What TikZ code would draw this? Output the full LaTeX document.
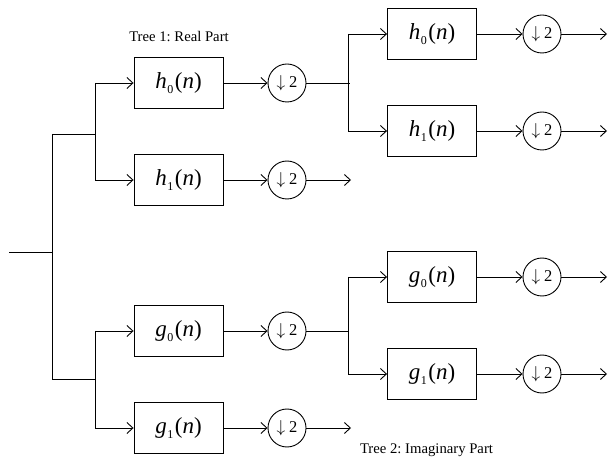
\documentclass[tikz,border=0pt]{standalone}
\usepackage{fontspec}
\setmainfont{Liberation Serif}
\usetikzlibrary{arrows.meta}
\frenchspacing
\newcommand\filtlabel[2]{\textit{#1}\kern0.5pt\raisebox{-5pt}{\fontsize{12}{12}\selectfont #2}\kern1.5pt(\textit{n})}
\newcommand\downtwo{$\downarrow$\kern4pt 2}
\begin{document}
\begin{tikzpicture}[x=1pt,y=-1pt,line width=0.9pt,
  filt/.style={draw,minimum width=89pt,minimum height=51pt,inner sep=0pt,font=\fontsize{23}{23}\selectfont},
  down/.style={draw,circle,minimum size=38pt,inner sep=0pt,font=\fontsize{16.5}{16.5}\selectfont},
  arr/.style={-{Straight Barb[length=6pt,width=11pt]}},
  caption/.style={font=\fontsize{14.7}{15}\selectfont,inner sep=0pt}]
\useasboundingbox (0,0) rectangle (608,462);
% level 1
\node[filt] (h0) at (178.5,83) {\filtlabel{h}{0}};
\node[filt] (h1) at (178.5,180) {\filtlabel{h}{1}};
\node[filt] (g0) at (178.5,331) {\filtlabel{g}{0}};
\node[filt] (g1) at (178.5,428) {\filtlabel{g}{1}};
\node[down] (dh0) at (287,83) {\downtwo};
\node[down] (dh1) at (287,180) {\downtwo};
\node[down] (dg0) at (287,331) {\downtwo};
\node[down] (dg1) at (287,428) {\downtwo};
% level 2
\node[filt] (hh0) at (432,34) {\filtlabel{h}{0}};
\node[filt] (hh1) at (432,131) {\filtlabel{h}{1}};
\node[filt] (gg0) at (432,277) {\filtlabel{g}{0}};
\node[filt] (gg1) at (432,374) {\filtlabel{g}{1}};
\node[down] (dhh0) at (542,34) {\downtwo};
\node[down] (dhh1) at (542,131) {\downtwo};
\node[down] (dgg0) at (542,277) {\downtwo};
\node[down] (dgg1) at (542,374) {\downtwo};
% captions
\node[caption] (t1) at (179,37) {Tree 1: Real Part};
\node[caption] (t2) at (426.5,450) {Tree 2: Imaginary Part};
% coordinates
\coordinate (in) at (9,252);
\coordinate (j0) at (52,252);
\coordinate (jh) at (95,134);
\coordinate (jg) at (95,379);
\coordinate (jhh) at (348,83);
\coordinate (jgg) at (348,331);
\coordinate (oh1) at (351,180);
\coordinate (og1) at (351,428);
\coordinate (ohh0) at (607,34);
\coordinate (ohh1) at (607,131);
\coordinate (ogg0) at (607,277);
\coordinate (ogg1) at (607,374);
% input tree
\draw (in) -- (j0);
\draw (j0 |- jh) -- (j0 |- jg);
\draw (j0 |- jh) -- (jh);
\draw (j0 |- jg) -- (jg);
\draw (jh |- h0) -- (jh |- h1);
\draw (jg |- g0) -- (jg |- g1);
\draw[arr] (jh |- h0) -- (h0.west);
\draw[arr] (jh |- h1) -- (h1.west);
\draw[arr] (jg |- g0) -- (g0.west);
\draw[arr] (jg |- g1) -- (g1.west);
\foreach \a/\b in {h0/dh0,h1/dh1,g0/dg0,g1/dg1,hh0/dhh0,hh1/dhh1,gg0/dgg0,gg1/dgg1}
  \draw[arr] (\a.east) -- (\b.west);
\draw[arr] (dh1.east) -- (oh1);
\draw[arr] (dg1.east) -- (og1);
% second level
\draw (dh0.east) -- ([xshift=2pt]jhh);
\draw (dg0.east) -- (jgg);
\draw (jhh |- hh0) -- (jhh |- hh1);
\draw (jgg |- gg0) -- (jgg |- gg1);
\draw[arr] (jhh |- hh0) -- (hh0.west);
\draw[arr] (jhh |- hh1) -- (hh1.west);
\draw[arr] (jgg |- gg0) -- (gg0.west);
\draw[arr] (jgg |- gg1) -- (gg1.west);
\draw[arr] (dhh0.east) -- (ohh0);
\draw[arr] (dhh1.east) -- (ohh1);
\draw[arr] (dgg0.east) -- (ogg0);
\draw[arr] (dgg1.east) -- (ogg1);
\end{tikzpicture}
\end{document}
